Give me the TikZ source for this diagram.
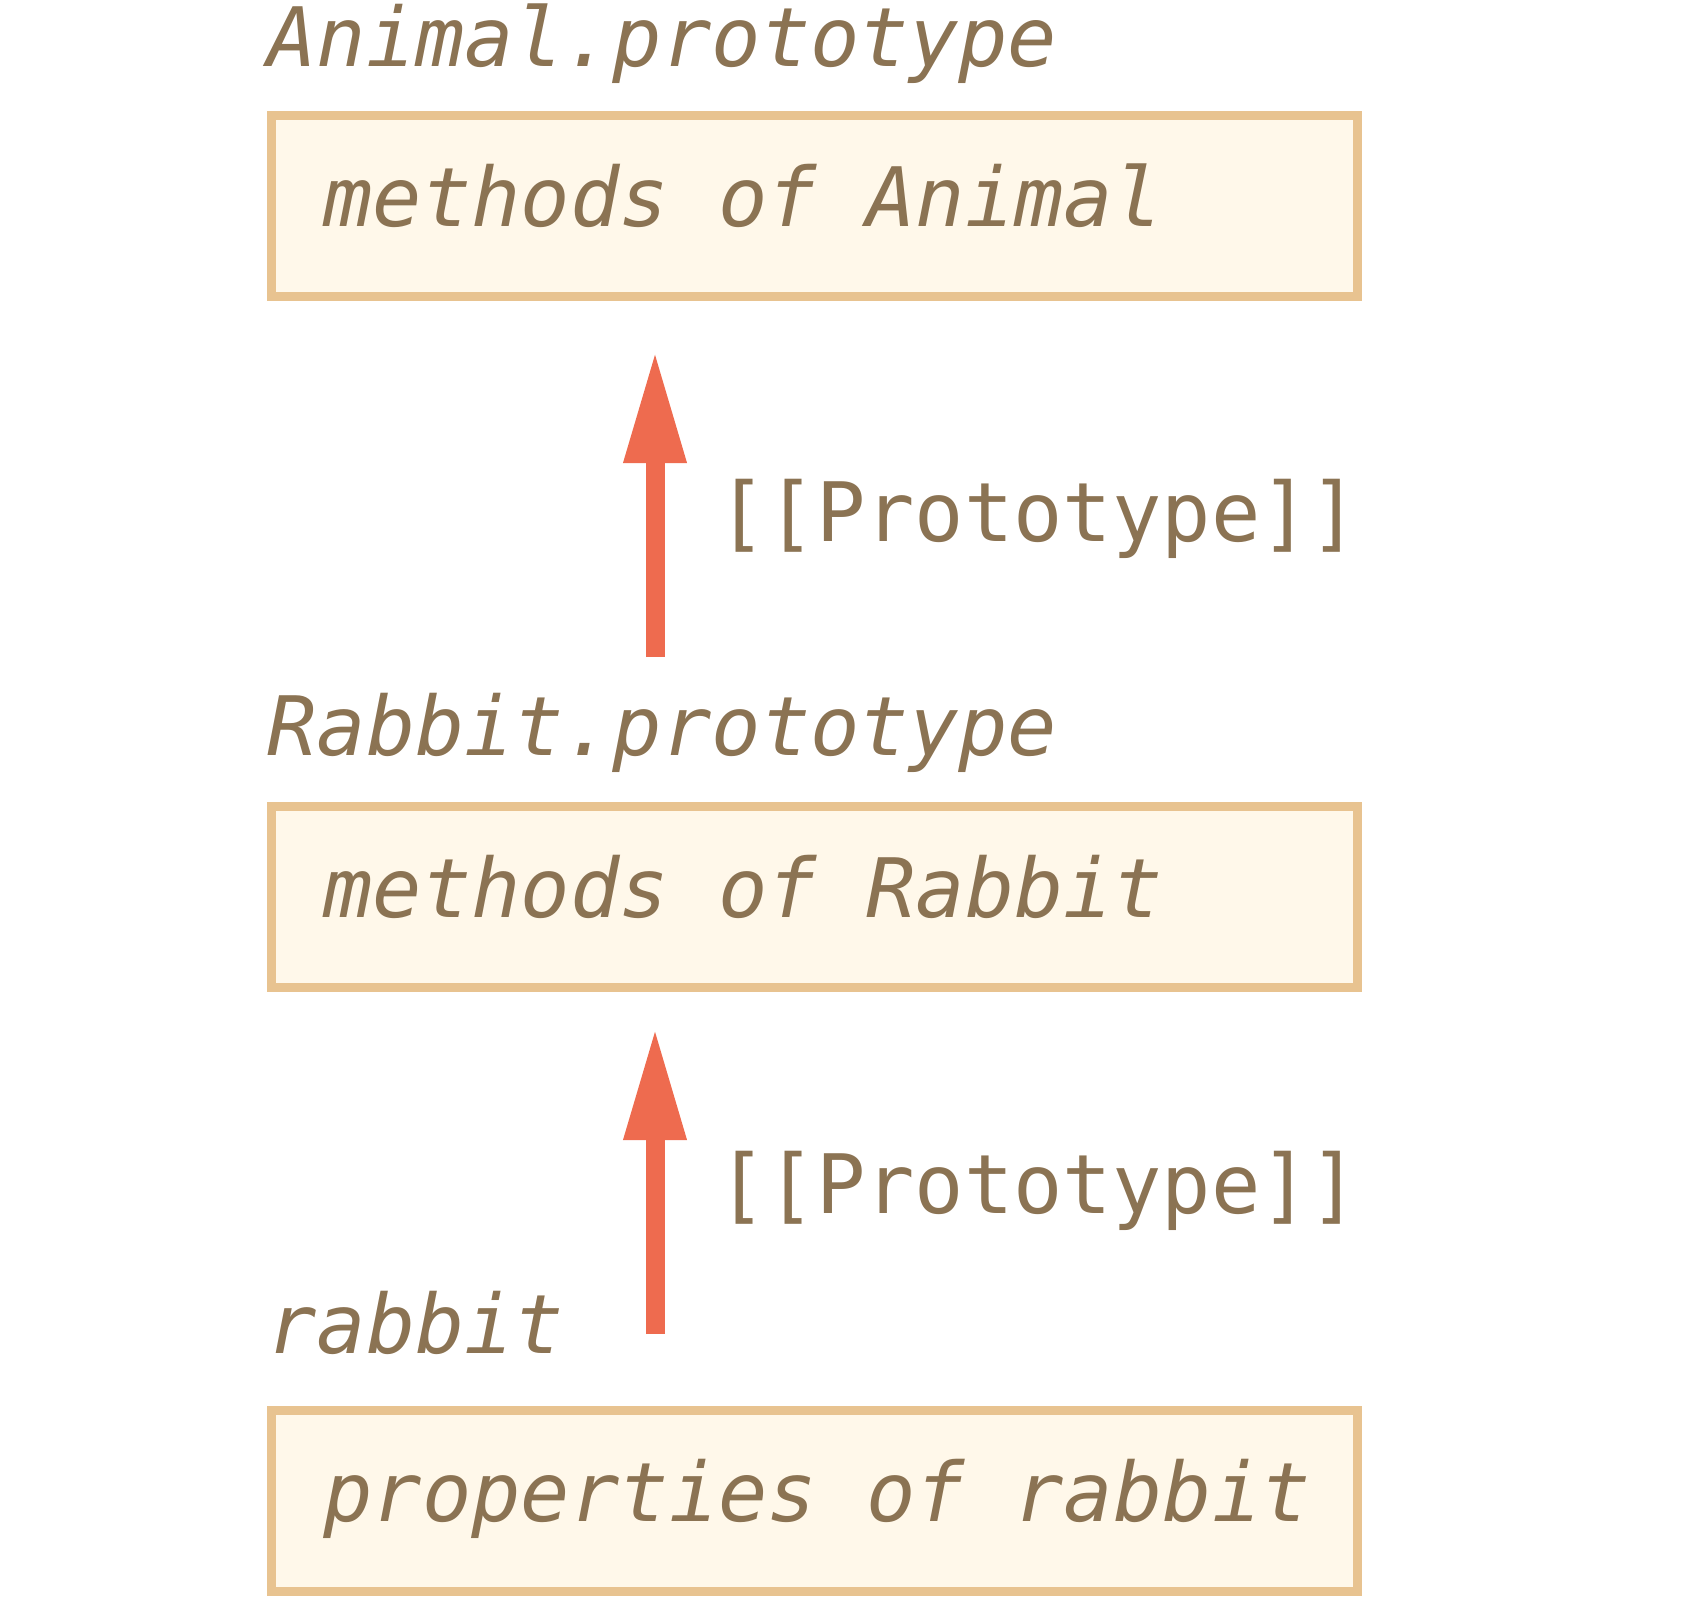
\documentclass[tikz,border=0pt]{standalone}
\usepackage{fontspec}
\setmonofont{DejaVu Sans Mono}
\usetikzlibrary{positioning,arrows.meta}
\definecolor{protoText}{HTML}{8B7353}
\definecolor{protoEdge}{HTML}{E8C390}
\definecolor{protoFill}{HTML}{FFF8EA}
\definecolor{protoArrow}{HTML}{EE6B4F}

\begin{document}
\begin{tikzpicture}[
		x=0.5pt, y=-0.5pt,
		objbox/.style={rectangle, draw=protoEdge, fill=protoFill, line width=4.5pt,
			minimum width=543pt, minimum height=90.5pt, text width=500pt, align=left,
			inner xsep=21.5pt, inner ysep=0pt, text height=30.75pt, text depth=10.25pt,
			text=protoText, font=\ttfamily\itshape\fontsize{41}{48}\selectfont,
			execute at begin node={\spaceskip=0.602em\relax\hspace*{4.5pt}}},
		objname/.style={anchor=base west, inner sep=0pt, text=protoText,
			font=\ttfamily\itshape\fontsize{41}{48}\selectfont},
		protolabel/.style={anchor=base west, inner sep=0pt, text=protoText,
			font=\ttfamily\fontsize{41}{48}\selectfont},
		protolink/.style={draw=protoArrow, line width=9.5pt,
			-{Triangle[length=56.5pt, width=29pt]}}
	]
	\useasboundingbox (0,0) rectangle (1690,1600);
	% objects
	\node[objname] (animalName) at (267,67) {Animal.prototype};
	\node[objbox] (animal) at (814.5,206) {methods of Animal};
	\node[objname] (rabbitProtoName) at (267,755) {Rabbit.prototype};
	\node[objbox] (rabbitProto) at (814.5,896.5) {methods of Rabbit};
	\node[objname] (rabbitName) at (267,1353) {rabbit};
	\node[objbox] (rabbit) at (814.5,1501) {properties of rabbit};
	% [[Prototype]] links
	\coordinate (link1s) at (655,657);
	\coordinate (link1e) at (655,350);
	\coordinate (link2s) at (655,1334);
	\coordinate (link2e) at (655,1027);
	\draw[protolink] (link1s) -- (link1e);
	\draw[protolink] (link2s) -- (link2e);
	\node[protolabel] (link1lbl) at (717,541) {[[Prototype]]};
	\node[protolabel] (link2lbl) at (717,1213) {[[Prototype]]};
\end{tikzpicture}
\end{document}
